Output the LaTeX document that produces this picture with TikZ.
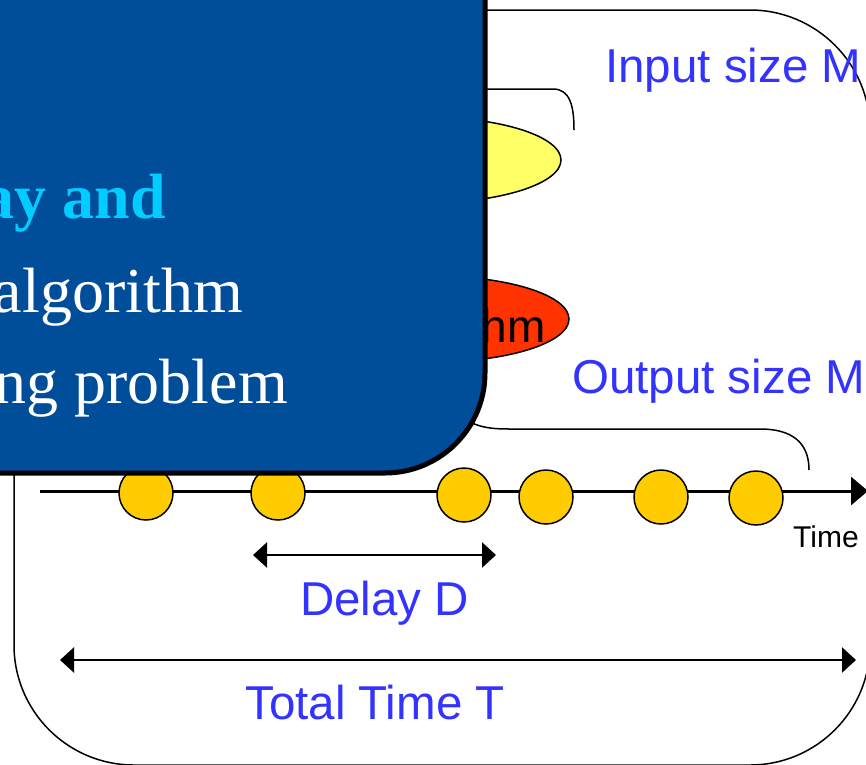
\documentclass[tikz,border=0pt]{standalone}
\usepackage{fontspec}
\setmainfont{Liberation Serif}
\setsansfont{Liberation Sans}
\usetikzlibrary{arrows.meta,shapes.geometric}
\definecolor{slideblue}{RGB}{0,77,153}
\definecolor{titlecyan}{RGB}{0,204,255}
\definecolor{labelblue}{RGB}{51,51,255}
\definecolor{inyellow}{RGB}{255,255,102}
\definecolor{algred}{RGB}{255,51,0}
\definecolor{pktyellow}{RGB}{255,204,0}
\begin{document}
\begin{tikzpicture}[x=1pt,y=-1pt,
  thinline/.style={line width=1.5pt},
  blob/.style={draw, ellipse, line width=1.5pt, minimum width=272pt, minimum height=86pt, inner sep=0pt},
  pkt/.style={draw, circle, fill=pktyellow, line width=1.5pt, minimum size=54pt, inner sep=0pt},
  lbl/.style={text=labelblue, font=\sffamily\fontsize{47.5}{47.5}\selectfont, inner sep=0pt},
  dimarrow/.style={line width=2.5pt, {Triangle[length=14pt,width=25pt]}-{Triangle[length=14pt,width=25pt]}},
  boxtext/.style={text=white, font=\rmfamily\fontsize{64}{64}\selectfont, inner sep=0pt, anchor=base east}]
\useasboundingbox (0,0) rectangle (866,764);

% outer frame
\draw[thinline, rounded corners=120pt] (14,10) rectangle (870,765);

% input and algorithm blobs
\node[blob, fill=inyellow] (inblob) at (425,160) {};
\node[blob, fill=algred] (algblob) at (433,319) {};

% braces
\draw[thinline] (430,89) -- (553,89) .. controls (570,89) and (574,106) .. (574,130);
\draw[thinline] (440,400) .. controls (468,426) and (482,429) .. (510,429) -- (760,429)
  .. controls (800,429) and (809,450) .. (809,470);

% time axis
\coordinate (tstart) at (40,491);
\coordinate (tend) at (868,491);
\draw[line width=3pt, -{Triangle[length=17pt,width=28pt]}] (tstart) -- (tend);
\node[anchor=base west, inner sep=0pt, font=\sffamily\fontsize{30}{30}\selectfont] (timelbl) at (793,547) {Time};

% packets
\node[pkt] (p1) at (146,493) {};
\node[pkt] (p2) at (278,493) {};
\node[pkt] (p3) at (464,495) {};
\node[pkt] (p4) at (546,497) {};
\node[pkt] (p5) at (661,497) {};
\node[pkt] (p6) at (756,498) {};

% delay and total time
\coordinate (dl) at (253,555);
\coordinate (dr) at (496,555);
\draw[dimarrow] (dl) -- (dr);
\node[lbl, anchor=base west] (delay) at (300,615) {Delay D};
\coordinate (tl) at (60,660);
\coordinate (tr) at (856,660);
\draw[dimarrow] (tl) -- (tr);
\node[lbl, anchor=base west] (total) at (245,719) {Total Time T};

% size labels
\node[lbl, anchor=base west] (insize) at (605,82) {Input size M};
\node[lbl, anchor=base west] (outsize) at (572,393) {Output size M};
\node[anchor=base east, inner sep=0pt, font=\sffamily\fontsize{46}{46}\selectfont] (algtext) at (546,342) {hm};

% overlapping slide panel
\draw[line width=5pt, fill=slideblue, rounded corners=100pt] (-300,-300) rectangle (485,473);
\node[boxtext, text=titlecyan, font=\rmfamily\bfseries\fontsize{64}{64}\selectfont] (l1) at (166,218) {ay and};
\node[boxtext] (l2) at (243,312) {algorithm};
\node[boxtext] (l3) at (288,403) {ng problem};
\end{tikzpicture}
\end{document}
